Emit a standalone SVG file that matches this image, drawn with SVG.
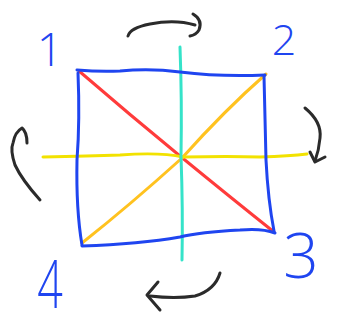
<svg xmlns="http://www.w3.org/2000/svg" width="337" height="329" viewBox="0 0 337 329">
<style>
.s{fill:none;stroke-width:3;stroke-linecap:round;stroke-linejoin:round}
.b{stroke:#1f45f0}
.k{stroke:#2b2b2b}
.n{font-family:"Open Sans","Liberation Sans",sans-serif;font-weight:300;fill:#1f45f0;text-anchor:middle}
</style>
<rect width="337" height="329" fill="#ffffff"/>
<g id="lines">
<path class="s" stroke="#ff3b3b" stroke-width="2.4" d="M79,71 Q130,115 180,156 T274,232"/>
<path class="s" stroke="#ffc21f" stroke-width="2.4" d="M266,74 Q225,110 182,158 Q130,205 82,243"/>
<path class="s" stroke="#f2e200" stroke-width="2.6" d="M43,157 Q90,156 120,155 Q160,152 183,157 Q230,156 260,157 Q290,156 307,154"/>
<path class="s" stroke="#35e3c9" stroke-width="2.6" d="M180,47 Q182,100 181,156 Q183,210 182,260"/>
</g>
<g id="square">
<path class="s b" d="M77,70 Q100,72 120,71 Q150,68 180,72 Q220,77 265,75"/>
<path class="s b" d="M264,76 Q265,120 266,160 Q268,200 274,231"/>
<path class="s b" d="M275,233 Q262,228 240,230 Q200,232 180,237 Q140,244 82,246"/>
<path class="s b" d="M78,73 Q80,120 77,160 Q76,210 82,245"/>
</g>
<g id="arrows">
<path class="s k" d="M128,36 Q130,28 150,24 Q175,19 195,25"/>
<path class="s k" d="M193,14 Q203,20 199,30 Q196,35 190,36"/>
<path class="s k" d="M305,108 Q322,122 320,138 Q319,150 315,161"/>
<path class="s k" d="M310,152 L315,162 L325,157"/>
<path class="s k" d="M40,200 Q22,180 15,165 Q10,150 13,143 Q15,132 22,128 Q27,132 27,143"/>
<path class="s k" d="M220,273 Q215,290 195,296 Q175,299 150,296"/>
<path class="s k" d="M158,282 L147,295 L160,310"/>
</g>
<g id="labels">
<text class="n" x="50" y="66" font-size="46">1</text>
<text class="n" x="284" y="55" font-size="43">2</text>
<text class="n" x="301" y="278" font-size="62">3</text>
<text class="n" font-size="56" transform="translate(50,308) scale(0.8,1.2)">4</text>
</g>
</svg>
